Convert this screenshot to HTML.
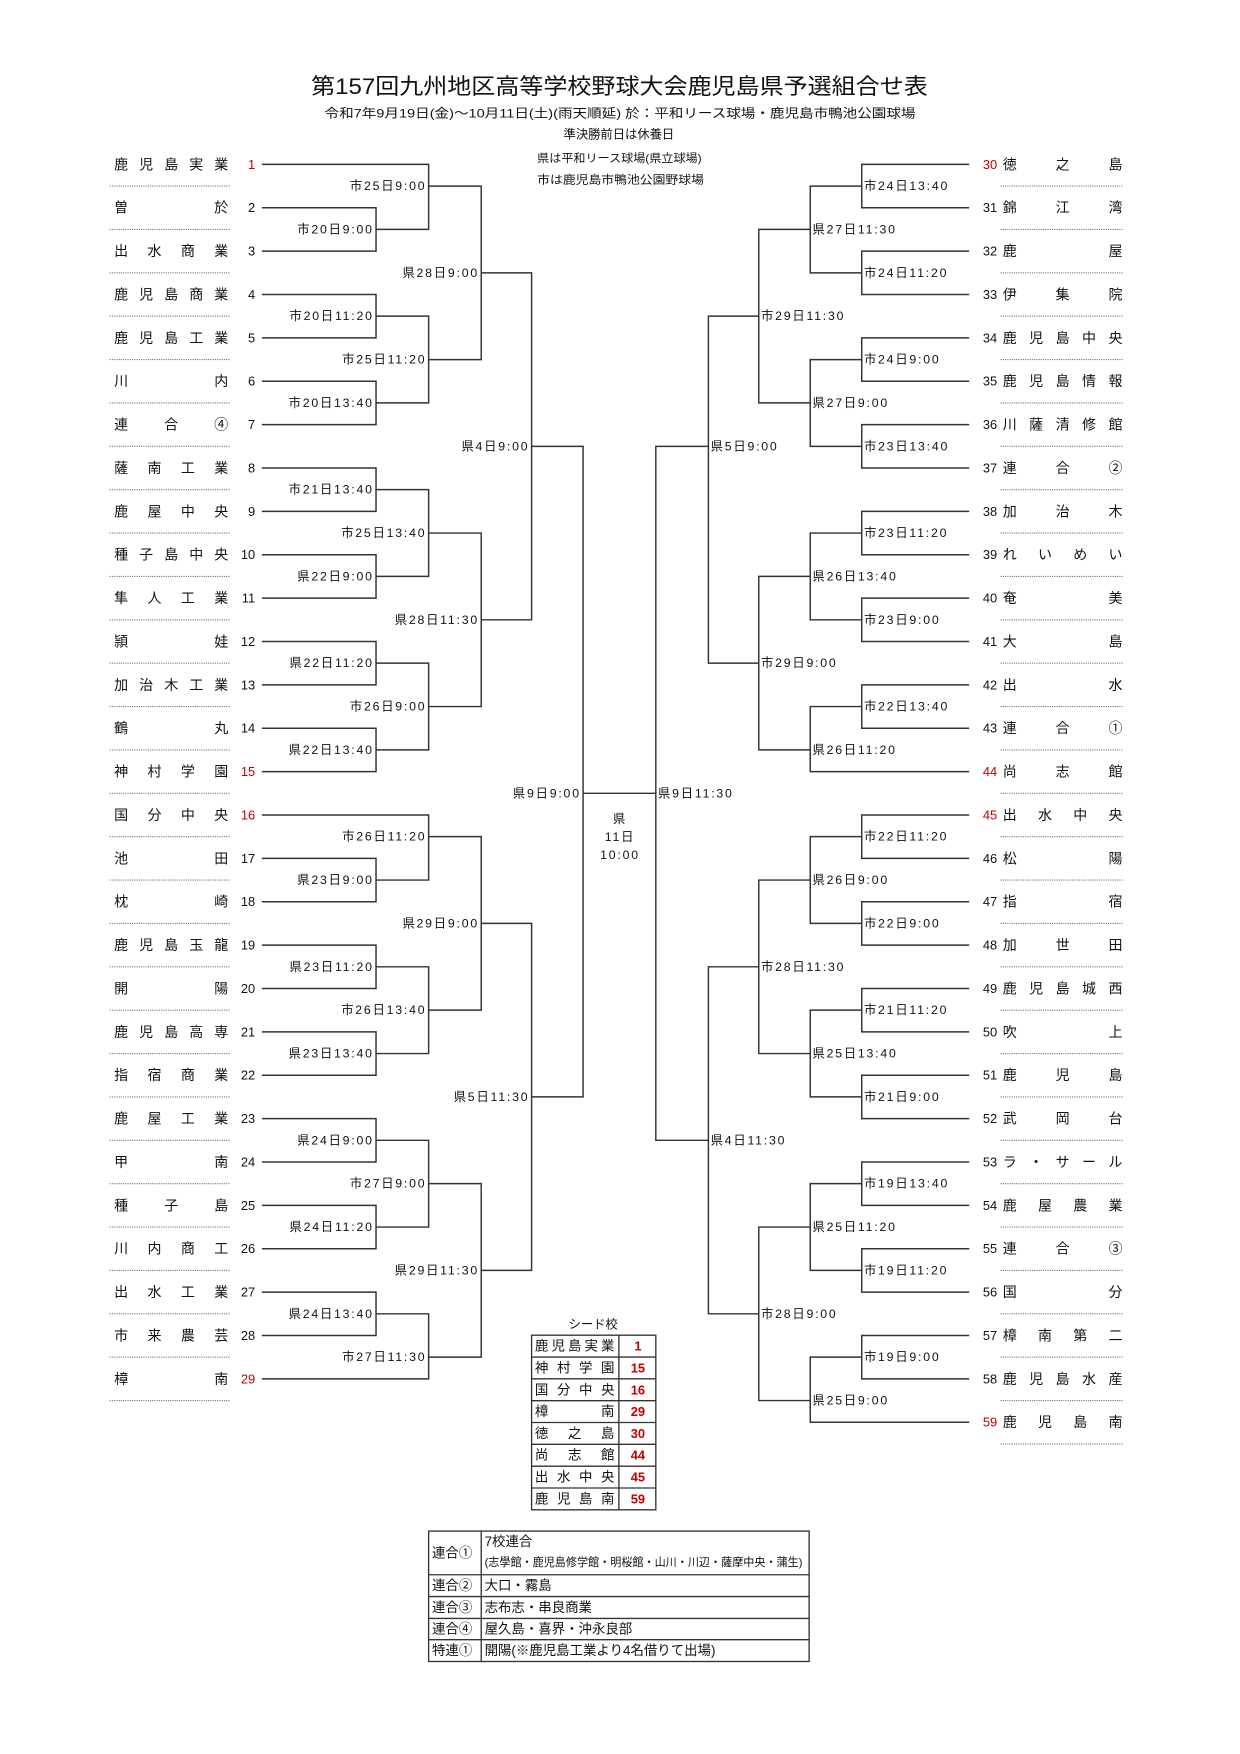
<!DOCTYPE html>
<html><head><meta charset="utf-8">
<style>
html,body{margin:0;padding:0;background:#fff;}
svg{display:block;}
text{font-family:"Liberation Sans","Noto Sans CJK JP",sans-serif;fill:#111;}
.nm{font-size:12.5px;}
.no{font-size:11.5px;}
.lb{font-size:11px;letter-spacing:1.6px;}
.red{fill:#c00000;}
</style></head>
<body>
<svg width="1240" height="1754" viewBox="0 0.15 1108 1567" preserveAspectRatio="none" xmlns="http://www.w3.org/2000/svg">
<rect x="0" y="0" width="1110" height="1570" fill="#fff"/>
<!-- header -->
<text x="278" y="84" font-size="20" textLength="551" lengthAdjust="spacingAndGlyphs">第157回九州地区高等学校野球大会鹿児島県予選組合せ表</text>
<text x="290" y="105" font-size="11" textLength="528" lengthAdjust="spacingAndGlyphs">令和7年9月19日(金)～10月11日(土)(雨天順延) 於：平和リース球場・鹿児島市鴨池公園球場</text>
<text x="553" y="124" font-size="11" text-anchor="middle">準決勝前日は休養日</text>
<text x="480" y="145" font-size="10" textLength="147" lengthAdjust="spacingAndGlyphs">県は平和リース球場(県立球場)</text>
<text x="480" y="164" font-size="10" textLength="149" lengthAdjust="spacingAndGlyphs">市は鹿児島市鴨池公園野球場</text>

<!-- dotted separators -->
<g stroke="#777" stroke-width="1" stroke-dasharray="1,1" fill="none">
<path d="M98 166.4H206M98 205.1H206M98 243.9H206M98 282.6H206M98 321.4H206M98 360.1H206M98 398.9H206M98 437.6H206M98 476.4H206M98 515.1H206M98 553.9H206M98 592.6H206M98 631.4H206M98 670.1H206M98 708.9H206M98 747.6H206M98 786.4H206M98 825.1H206M98 863.9H206M98 902.6H206M98 941.4H206M98 980.1H206M98 1018.9H206M98 1057.6H206M98 1096.4H206M98 1135.1H206M98 1173.9H206M98 1212.6H206M98 1251.4H206"/>
<path d="M894 166.4H1004M894 205.1H1004M894 243.9H1004M894 282.6H1004M894 321.4H1004M894 360.1H1004M894 398.9H1004M894 437.6H1004M894 476.4H1004M894 515.1H1004M894 553.9H1004M894 592.6H1004M894 631.4H1004M894 670.1H1004M894 708.9H1004M894 747.6H1004M894 786.4H1004M894 825.1H1004M894 863.9H1004M894 902.6H1004M894 941.4H1004M894 980.1H1004M894 1018.9H1004M894 1057.6H1004M894 1096.4H1004M894 1135.1H1004M894 1173.9H1004M894 1212.6H1004M894 1251.4H1004M894 1290.1H1004"/>
</g>

<!-- bracket lines -->
<g stroke="#333" stroke-width="1.3" fill="none">
<path d="M234 185.75H336V224.5H234"/>
<path d="M234 147H383V205.1H336"/>
<path d="M234 263.25H336V302H234"/>
<path d="M234 340.75H336V379.5H234"/>
<path d="M336 282.6H383V360.1H336"/>
<path d="M383 166.4H430V321.4H383"/>
<path d="M234 418.25H336V457H234"/>
<path d="M234 495.75H336V534.5H234"/>
<path d="M336 437.6H383V515.1H336"/>
<path d="M234 573.25H336V612H234"/>
<path d="M234 650.75H336V689.5H234"/>
<path d="M336 592.6H383V670.1H336"/>
<path d="M383 476.4H430V631.4H383"/>
<path d="M430 243.9H475V553.9H430"/>
<path d="M234 767H336V805.75H234"/>
<path d="M234 728.25H383V786.4H336"/>
<path d="M234 844.5H336V883.25H234"/>
<path d="M234 922H336V960.75H234"/>
<path d="M336 863.9H383V941.4H336"/>
<path d="M383 747.6H430V902.6H383"/>
<path d="M234 999.5H336V1038.25H234"/>
<path d="M234 1077H336V1115.75H234"/>
<path d="M336 1018.9H383V1096.4H336"/>
<path d="M234 1154.5H336V1193.25H234"/>
<path d="M336 1173.9H383V1232H234"/>
<path d="M383 1057.6H430V1212.6H383"/>
<path d="M430 825.1H475V1135.1H430"/>
<path d="M475 398.9H521V980.1H475"/>
<path d="M521 708.9H586"/>
<path d="M866 147H770V185.75H866"/>
<path d="M866 224.5H770V263.25H866"/>
<path d="M770 166.4H724V243.9H770"/>
<path d="M866 302H770V340.75H866"/>
<path d="M866 379.5H770V418.25H866"/>
<path d="M770 321.4H724V398.9H770"/>
<path d="M724 205.1H678V360.1H724"/>
<path d="M866 457H770V495.75H866"/>
<path d="M866 534.5H770V573.25H866"/>
<path d="M770 476.4H724V553.9H770"/>
<path d="M866 612H770V650.75H866"/>
<path d="M770 631.4H724V689.5H866"/>
<path d="M724 515.1H678V670.1H724"/>
<path d="M678 282.6H633V592.6H678"/>
<path d="M866 728.25H770V767H866"/>
<path d="M866 805.75H770V844.5H866"/>
<path d="M770 747.6H724V825.1H770"/>
<path d="M866 883.25H770V922H866"/>
<path d="M866 960.75H770V999.5H866"/>
<path d="M770 902.6H724V980.1H770"/>
<path d="M724 786.4H678V941.4H724"/>
<path d="M866 1038.25H770V1077H866"/>
<path d="M866 1115.75H770V1154.5H866"/>
<path d="M770 1057.6H724V1135.1H770"/>
<path d="M866 1193.25H770V1232H866"/>
<path d="M770 1212.6H724V1270.75H866"/>
<path d="M724 1096.4H678V1251.4H724"/>
<path d="M678 863.9H633V1173.9H678"/>
<path d="M633 398.9H586V1018.9H633"/>
</g>

<!-- left labels -->
<g class="lb" text-anchor="end" dominant-baseline="central">
<text x="334" y="205.1">市20日9:00</text>
<text x="381" y="166.4">市25日9:00</text>
<text x="334" y="282.6">市20日11:20</text>
<text x="334" y="360.1">市20日13:40</text>
<text x="381" y="321.4">市25日11:20</text>
<text x="428" y="243.9">県28日9:00</text>
<text x="334" y="437.6">市21日13:40</text>
<text x="334" y="515.1">県22日9:00</text>
<text x="381" y="476.4">市25日13:40</text>
<text x="334" y="592.6">県22日11:20</text>
<text x="334" y="670.1">県22日13:40</text>
<text x="381" y="631.4">市26日9:00</text>
<text x="428" y="553.9">県28日11:30</text>
<text x="473" y="398.9">県4日9:00</text>
<text x="334" y="786.4">県23日9:00</text>
<text x="381" y="747.6">市26日11:20</text>
<text x="334" y="863.9">県23日11:20</text>
<text x="334" y="941.4">県23日13:40</text>
<text x="381" y="902.6">市26日13:40</text>
<text x="428" y="825.1">県29日9:00</text>
<text x="334" y="1018.9">県24日9:00</text>
<text x="334" y="1096.4">県24日11:20</text>
<text x="381" y="1057.6">市27日9:00</text>
<text x="334" y="1173.9">県24日13:40</text>
<text x="381" y="1212.6">市27日11:30</text>
<text x="428" y="1135.1">県29日11:30</text>
<text x="473" y="980.1">県5日11:30</text>
<text x="519" y="708.9">県9日9:00</text>
</g>
<!-- right labels -->
<g class="lb" dominant-baseline="central">
<text x="772" y="166.4">市24日13:40</text>
<text x="772" y="243.9">市24日11:20</text>
<text x="726" y="205.1">県27日11:30</text>
<text x="772" y="321.4">市24日9:00</text>
<text x="772" y="398.9">市23日13:40</text>
<text x="726" y="360.1">県27日9:00</text>
<text x="680" y="282.6">市29日11:30</text>
<text x="772" y="476.4">市23日11:20</text>
<text x="772" y="553.9">市23日9:00</text>
<text x="726" y="515.1">県26日13:40</text>
<text x="772" y="631.4">市22日13:40</text>
<text x="726" y="670.1">県26日11:20</text>
<text x="680" y="592.6">市29日9:00</text>
<text x="635" y="398.9">県5日9:00</text>
<text x="772" y="747.6">市22日11:20</text>
<text x="772" y="825.1">市22日9:00</text>
<text x="726" y="786.4">県26日9:00</text>
<text x="772" y="902.6">市21日11:20</text>
<text x="772" y="980.1">市21日9:00</text>
<text x="726" y="941.4">県25日13:40</text>
<text x="680" y="863.9">市28日11:30</text>
<text x="772" y="1057.6">市19日13:40</text>
<text x="772" y="1135.1">市19日11:20</text>
<text x="726" y="1096.4">県25日11:20</text>
<text x="772" y="1212.6">市19日9:00</text>
<text x="726" y="1251.4">県25日9:00</text>
<text x="680" y="1173.9">市28日9:00</text>
<text x="635" y="1018.9">県4日11:30</text>
<text x="588" y="708.9">県9日11:30</text>
</g>
<g class="lb" text-anchor="middle" dominant-baseline="central">
<text x="554" y="732">県</text>
<text x="554" y="748">11日</text>
<text x="554" y="764">10:00</text>
</g>

<!-- left teams -->
<g class="nm" dominant-baseline="central">
<text x="102" y="147" textLength="102" lengthAdjust="spacing">鹿児島実業</text>
<text x="102" y="185.75" textLength="102" lengthAdjust="spacing">曽於</text>
<text x="102" y="224.5" textLength="102" lengthAdjust="spacing">出水商業</text>
<text x="102" y="263.25" textLength="102" lengthAdjust="spacing">鹿児島商業</text>
<text x="102" y="302" textLength="102" lengthAdjust="spacing">鹿児島工業</text>
<text x="102" y="340.75" textLength="102" lengthAdjust="spacing">川内</text>
<text x="102" y="379.5" textLength="102" lengthAdjust="spacing">連合④</text>
<text x="102" y="418.25" textLength="102" lengthAdjust="spacing">薩南工業</text>
<text x="102" y="457" textLength="102" lengthAdjust="spacing">鹿屋中央</text>
<text x="102" y="495.75" textLength="102" lengthAdjust="spacing">種子島中央</text>
<text x="102" y="534.5" textLength="102" lengthAdjust="spacing">隼人工業</text>
<text x="102" y="573.25" textLength="102" lengthAdjust="spacing">頴娃</text>
<text x="102" y="612" textLength="102" lengthAdjust="spacing">加治木工業</text>
<text x="102" y="650.75" textLength="102" lengthAdjust="spacing">鶴丸</text>
<text x="102" y="689.5" textLength="102" lengthAdjust="spacing">神村学園</text>
<text x="102" y="728.25" textLength="102" lengthAdjust="spacing">国分中央</text>
<text x="102" y="767" textLength="102" lengthAdjust="spacing">池田</text>
<text x="102" y="805.75" textLength="102" lengthAdjust="spacing">枕崎</text>
<text x="102" y="844.5" textLength="102" lengthAdjust="spacing">鹿児島玉龍</text>
<text x="102" y="883.25" textLength="102" lengthAdjust="spacing">開陽</text>
<text x="102" y="922" textLength="102" lengthAdjust="spacing">鹿児島高専</text>
<text x="102" y="960.75" textLength="102" lengthAdjust="spacing">指宿商業</text>
<text x="102" y="999.5" textLength="102" lengthAdjust="spacing">鹿屋工業</text>
<text x="102" y="1038.25" textLength="102" lengthAdjust="spacing">甲南</text>
<text x="102" y="1077" textLength="102" lengthAdjust="spacing">種子島</text>
<text x="102" y="1115.75" textLength="102" lengthAdjust="spacing">川内商工</text>
<text x="102" y="1154.5" textLength="102" lengthAdjust="spacing">出水工業</text>
<text x="102" y="1193.25" textLength="102" lengthAdjust="spacing">市来農芸</text>
<text x="102" y="1232" textLength="102" lengthAdjust="spacing">樟南</text>
</g>
<g class="no" text-anchor="end" dominant-baseline="central">
<text x="228" y="147" class="red">1</text>
<text x="228" y="185.75">2</text>
<text x="228" y="224.5">3</text>
<text x="228" y="263.25">4</text>
<text x="228" y="302">5</text>
<text x="228" y="340.75">6</text>
<text x="228" y="379.5">7</text>
<text x="228" y="418.25">8</text>
<text x="228" y="457">9</text>
<text x="228" y="495.75">10</text>
<text x="228" y="534.5">11</text>
<text x="228" y="573.25">12</text>
<text x="228" y="612">13</text>
<text x="228" y="650.75">14</text>
<text x="228" y="689.5" class="red">15</text>
<text x="228" y="728.25" class="red">16</text>
<text x="228" y="767">17</text>
<text x="228" y="805.75">18</text>
<text x="228" y="844.5">19</text>
<text x="228" y="883.25">20</text>
<text x="228" y="922">21</text>
<text x="228" y="960.75">22</text>
<text x="228" y="999.5">23</text>
<text x="228" y="1038.25">24</text>
<text x="228" y="1077">25</text>
<text x="228" y="1115.75">26</text>
<text x="228" y="1154.5">27</text>
<text x="228" y="1193.25">28</text>
<text x="228" y="1232" class="red">29</text>
</g>

<!-- right teams -->
<g class="nm" dominant-baseline="central">
<text x="896" y="147" textLength="107" lengthAdjust="spacing">徳之島</text>
<text x="896" y="185.75" textLength="107" lengthAdjust="spacing">錦江湾</text>
<text x="896" y="224.5" textLength="107" lengthAdjust="spacing">鹿屋</text>
<text x="896" y="263.25" textLength="107" lengthAdjust="spacing">伊集院</text>
<text x="896" y="302" textLength="107" lengthAdjust="spacing">鹿児島中央</text>
<text x="896" y="340.75" textLength="107" lengthAdjust="spacing">鹿児島情報</text>
<text x="896" y="379.5" textLength="107" lengthAdjust="spacing">川薩清修館</text>
<text x="896" y="418.25" textLength="107" lengthAdjust="spacing">連合②</text>
<text x="896" y="457" textLength="107" lengthAdjust="spacing">加治木</text>
<text x="896" y="495.75" textLength="107" lengthAdjust="spacing">れいめい</text>
<text x="896" y="534.5" textLength="107" lengthAdjust="spacing">奄美</text>
<text x="896" y="573.25" textLength="107" lengthAdjust="spacing">大島</text>
<text x="896" y="612" textLength="107" lengthAdjust="spacing">出水</text>
<text x="896" y="650.75" textLength="107" lengthAdjust="spacing">連合①</text>
<text x="896" y="689.5" textLength="107" lengthAdjust="spacing">尚志館</text>
<text x="896" y="728.25" textLength="107" lengthAdjust="spacing">出水中央</text>
<text x="896" y="767" textLength="107" lengthAdjust="spacing">松陽</text>
<text x="896" y="805.75" textLength="107" lengthAdjust="spacing">指宿</text>
<text x="896" y="844.5" textLength="107" lengthAdjust="spacing">加世田</text>
<text x="896" y="883.25" textLength="107" lengthAdjust="spacing">鹿児島城西</text>
<text x="896" y="922" textLength="107" lengthAdjust="spacing">吹上</text>
<text x="896" y="960.75" textLength="107" lengthAdjust="spacing">鹿児島</text>
<text x="896" y="999.5" textLength="107" lengthAdjust="spacing">武岡台</text>
<text x="896" y="1038.25" textLength="107" lengthAdjust="spacing">ラ・サール</text>
<text x="896" y="1077" textLength="107" lengthAdjust="spacing">鹿屋農業</text>
<text x="896" y="1115.75" textLength="107" lengthAdjust="spacing">連合③</text>
<text x="896" y="1154.5" textLength="107" lengthAdjust="spacing">国分</text>
<text x="896" y="1193.25" textLength="107" lengthAdjust="spacing">樟南第二</text>
<text x="896" y="1232" textLength="107" lengthAdjust="spacing">鹿児島水産</text>
<text x="896" y="1270.75" textLength="107" lengthAdjust="spacing">鹿児島南</text>
</g>
<g class="no" text-anchor="end" dominant-baseline="central">
<text x="891" y="147" class="red">30</text>
<text x="891" y="185.75">31</text>
<text x="891" y="224.5">32</text>
<text x="891" y="263.25">33</text>
<text x="891" y="302">34</text>
<text x="891" y="340.75">35</text>
<text x="891" y="379.5">36</text>
<text x="891" y="418.25">37</text>
<text x="891" y="457">38</text>
<text x="891" y="495.75">39</text>
<text x="891" y="534.5">40</text>
<text x="891" y="573.25">41</text>
<text x="891" y="612">42</text>
<text x="891" y="650.75">43</text>
<text x="891" y="689.5" class="red">44</text>
<text x="891" y="728.25" class="red">45</text>
<text x="891" y="767">46</text>
<text x="891" y="805.75">47</text>
<text x="891" y="844.5">48</text>
<text x="891" y="883.25">49</text>
<text x="891" y="922">50</text>
<text x="891" y="960.75">51</text>
<text x="891" y="999.5">52</text>
<text x="891" y="1038.25">53</text>
<text x="891" y="1077">54</text>
<text x="891" y="1115.75">55</text>
<text x="891" y="1154.5">56</text>
<text x="891" y="1193.25">57</text>
<text x="891" y="1232">58</text>
<text x="891" y="1270.75" class="red">59</text>
</g>

<!-- seed table -->
<text x="530" y="1187" font-size="11" text-anchor="middle">シード校</text>
<g stroke="#333" stroke-width="1.2" fill="none">
<rect x="475" y="1193" width="111" height="156"/>
<path d="M553 1193V1349M475 1212.5H586M475 1232H586M475 1251.5H586M475 1271H586M475 1290.5H586M475 1310H586M475 1329.5H586"/>
</g>
<g font-size="12" dominant-baseline="central">
<text x="478" y="1202.75" textLength="71" lengthAdjust="spacing">鹿児島実業</text>
<text x="478" y="1222.25" textLength="71" lengthAdjust="spacing">神村学園</text>
<text x="478" y="1241.75" textLength="71" lengthAdjust="spacing">国分中央</text>
<text x="478" y="1261.25" textLength="71" lengthAdjust="spacing">樟南</text>
<text x="478" y="1280.75" textLength="71" lengthAdjust="spacing">徳之島</text>
<text x="478" y="1300.25" textLength="71" lengthAdjust="spacing">尚志館</text>
<text x="478" y="1319.75" textLength="71" lengthAdjust="spacing">出水中央</text>
<text x="478" y="1339.25" textLength="71" lengthAdjust="spacing">鹿児島南</text>
</g>
<g font-size="11.5" font-weight="bold" text-anchor="middle" dominant-baseline="central">
<text x="570" y="1202.75" class="red">1</text>
<text x="570" y="1222.25" class="red">15</text>
<text x="570" y="1241.75" class="red">16</text>
<text x="570" y="1261.25" class="red">29</text>
<text x="570" y="1280.75" class="red">30</text>
<text x="570" y="1300.25" class="red">44</text>
<text x="570" y="1319.75" class="red">45</text>
<text x="570" y="1339.25" class="red">59</text>
</g>

<!-- union table -->
<g stroke="#333" stroke-width="1.2" fill="none">
<rect x="383" y="1368" width="340" height="116.5"/>
<path d="M430 1368V1484.5M383 1407H723M383 1426.5H723M383 1446H723M383 1465H723"/>
</g>
<g font-size="12" dominant-baseline="central">
<text x="386" y="1387.5">連合①</text>
<text x="386" y="1416.75">連合②</text>
<text x="386" y="1436.25">連合③</text>
<text x="386" y="1455.5">連合④</text>
<text x="386" y="1474.75">特連①</text>
<text x="433" y="1377.5">7校連合</text>
<text x="433" y="1396.5" font-size="10" textLength="284" lengthAdjust="spacingAndGlyphs">(志學館・鹿児島修学館・明桜館・山川・川辺・薩摩中央・蒲生)</text>
<text x="433" y="1416.75">大口・霧島</text>
<text x="433" y="1436.25">志布志・串良商業</text>
<text x="433" y="1455.5">屋久島・喜界・沖永良部</text>
<text x="433" y="1474.75">開陽(※鹿児島工業より4名借りて出場)</text>
</g>
</svg>
</body></html>
